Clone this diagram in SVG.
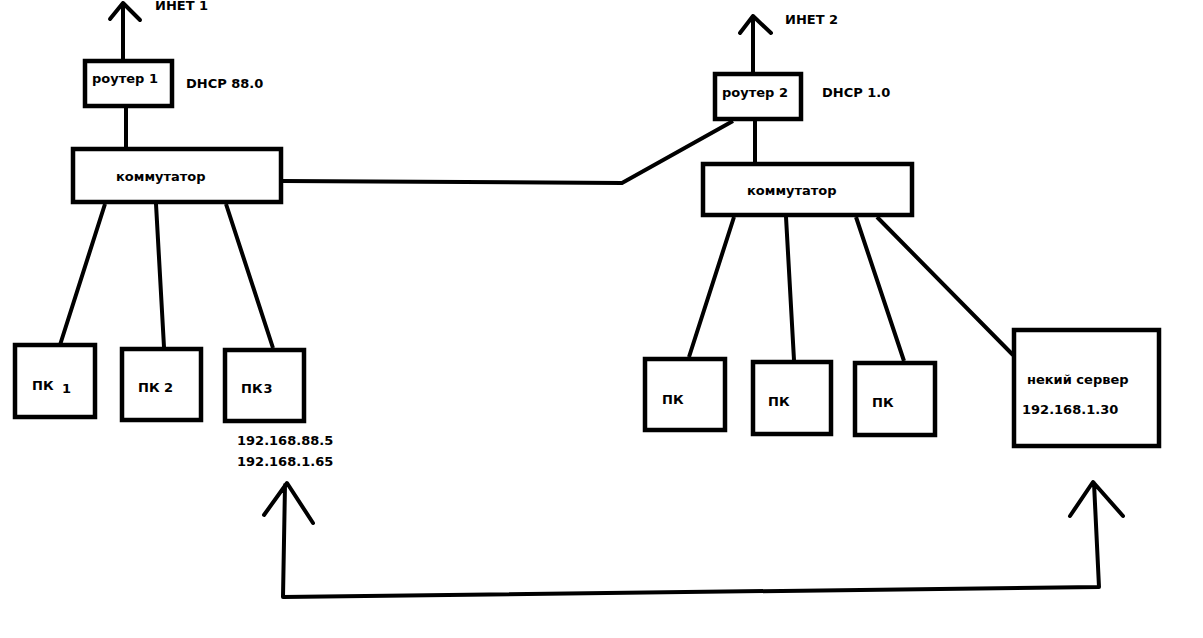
<svg xmlns="http://www.w3.org/2000/svg" width="1203" height="638" viewBox="0 0 1203 638">
<style>
.box{fill:#fff;stroke:#000;stroke-width:4.5}
.ln{fill:none;stroke:#000;stroke-width:4;stroke-linecap:butt;stroke-linejoin:miter}
.ar{fill:none;stroke:#000;stroke-width:4;stroke-linecap:round;stroke-linejoin:round}
text{font-family:"DejaVu Sans","Verdana",sans-serif;font-weight:bold;font-size:13px;fill:#000}
</style>
<rect width="1203" height="638" fill="#fff"/>
<g id="connectors">
<path class="ar" d="M123,60 L123,3 M110,19 L123,3 L140,20"/>
<path class="ln" d="M126,108 L126,150"/>
<path class="ar" d="M753,74 L753,16 M740,33 L753,16 L771,33"/>
<path class="ln" d="M755,121 L755,164"/>
<path class="ln" d="M283,181 L622,183 L733,121"/>
<path class="ln" d="M105,204 L60,345 M156,204 L164,347 M226,204 L273,348"/>
<path class="ln" d="M734,217 L689,357 M786,217 L794,360 M856,217 L904,361 M877,217 L1013,355"/>
<path class="ar" d="M285,485 L283,597 L1099,587 L1094,483 M264,515 L287,483 L313,523 M1070,516 L1093,482 L1123,516"/>
</g>
<g id="router1"><rect class="box" x="85" y="61" width="87" height="45"/><text x="92" y="83">роутер  1</text></g>
<text x="186" y="88">DHCP 88.0</text>
<text x="155" y="10">ИНЕТ  1</text>
<g id="switch1"><rect class="box" x="73" y="149" width="208" height="53"/><text x="116" y="181">коммутатор</text></g>
<g id="router2"><rect class="box" x="715" y="74" width="86" height="45"/><text x="722" y="97">роутер 2</text></g>
<text x="822" y="97">DHCP 1.0</text>
<text x="785" y="24">ИНЕТ 2</text>
<g id="switch2"><rect class="box" x="703" y="164" width="209" height="51"/><text x="747" y="195">коммутатор</text></g>
<g id="pc1"><rect class="box" x="15" y="345" width="80" height="72"/><text x="32" y="390">ПК</text><text x="62" y="393">1</text></g>
<g id="pc2"><rect class="box" x="122" y="349" width="79" height="71"/><text x="138" y="392">ПК 2</text></g>
<g id="pc3"><rect class="box" x="225" y="350" width="79" height="71"/><text x="241" y="393">ПК<tspan dx="1">3</tspan></text></g>
<text x="237" y="445">192.168.88.5</text>
<text x="237" y="466">192.168.1.65</text>
<g id="pc4"><rect class="box" x="645" y="359" width="80" height="71"/><text x="662" y="404">ПК</text></g>
<g id="pc5"><rect class="box" x="753" y="362" width="78" height="72"/><text x="768" y="406">ПК</text></g>
<g id="pc6"><rect class="box" x="855" y="363" width="80" height="72"/><text x="872" y="407">ПК</text></g>
<g id="server"><rect class="box" x="1014" y="330" width="145" height="116"/><text x="1027" y="384">некий сервер</text><text x="1022" y="414">192.168.1.30</text></g>
</svg>
